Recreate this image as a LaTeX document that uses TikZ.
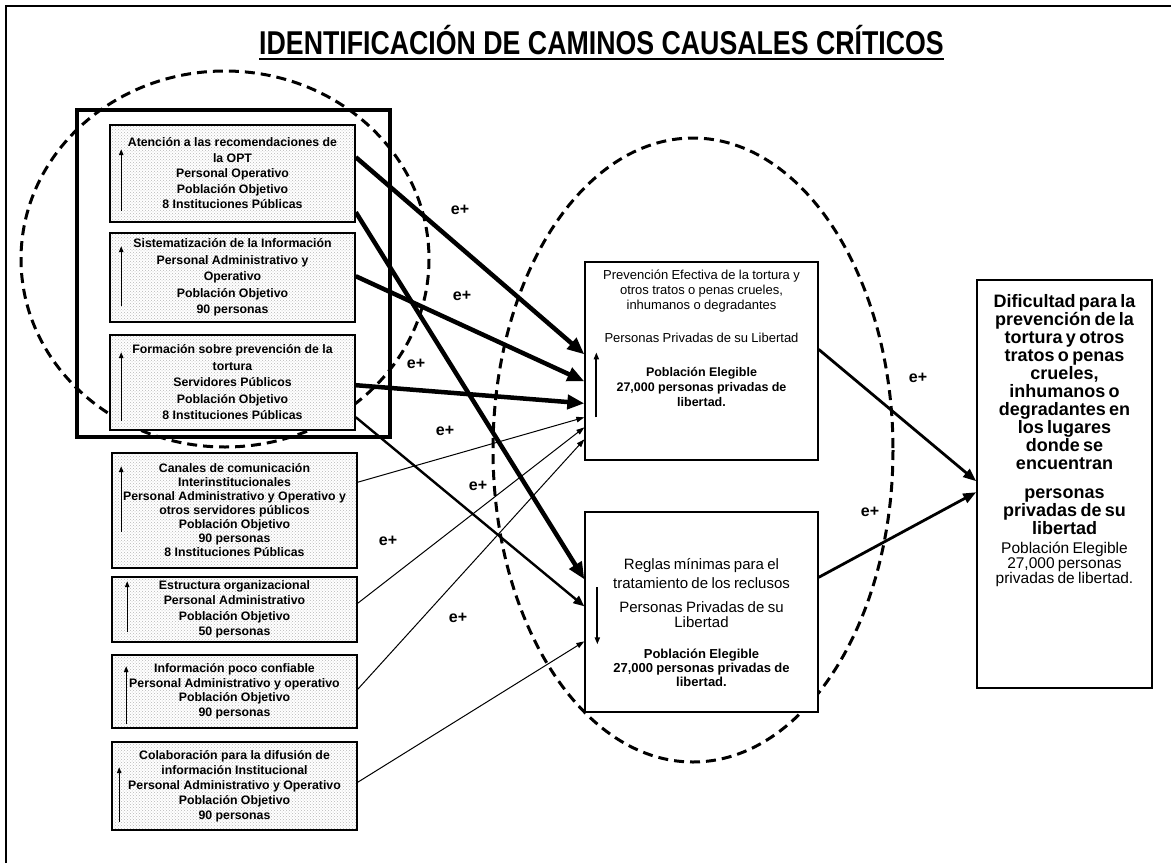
\documentclass[tikz,border=0pt]{standalone}
\usepackage{fontspec}
\setmainfont{Liberation Sans}
\usetikzlibrary{arrows.meta,calc,patterns}
\begin{document}
\begin{tikzpicture}[x=1pt,y=-1pt,
 lbox/.style={draw,line width=1.6pt,preaction={fill=white},pattern=crosshatch dots,pattern color=black!28,minimum width=245pt,inner sep=0pt,align=center,font=\fontsize{12.3}{15.5}\selectfont\bfseries},
 mbox/.style={draw,line width=1.3pt,fill=white,minimum width=233pt,inner sep=0pt},
 btext/.style={anchor=north,align=center,inner sep=0pt,execute at begin node=\setlength{\parindent}{0pt}},
 inarr/.style={line width=1pt,-{Triangle[length=6pt,width=4.5pt]}},
 minarr/.style={line width=1.8pt,-{Triangle[length=7pt,width=5pt]}},
 thickarr/.style={line width=4.5pt,-{Triangle[length=17pt,width=14pt]}},
 medarr/.style={line width=2.4pt,-{Triangle[length=11pt,width=9pt]}},
 thinarr/.style={line width=1pt,-{Triangle[length=8pt,width=5.5pt]}},
 rarr/.style={line width=2.8pt,-{Triangle[length=13pt,width=10pt]}},
 lab/.style={font=\fontsize{16}{16}\selectfont\bfseries,inner sep=0pt},
 dashell/.style={line width=3pt,dash pattern=on 10pt off 6pt},
]
\useasboundingbox (0,0) rectangle (1171,863);
% page frame
\draw[line width=1.5pt] (6,863) -- (6,6) -- (1171,6);
% title
\node[inner sep=0pt,anchor=base] (title) at (601.5,54) {\scalebox{0.81}[1]{\fontsize{33}{36}\selectfont\bfseries IDENTIFICACIÓN DE CAMINOS CAUSALES CRÍTICOS}};
\draw[line width=2.5pt] ($(title.base west)+(0,5)$) -- ($(title.base east)+(0,5)$);
% dashed ellipses
\draw[dashell] (225,259) ellipse [x radius=204, y radius=188];
\draw[dashell] (693,450) ellipse [x radius=200, y radius=312];
% thick frame round the first three causes
\draw[line width=4.5pt] (77,110) rectangle (390,437);
% left boxes
\node[lbox,minimum height=97pt] (b1) at (232.5,173.5) {Atención a las recomendaciones de\\ la OPT\\ Personal Operativo\\ Población Objetivo\\ 8 Instituciones Públicas};
\node[lbox,minimum height=89pt,font=\fontsize{12.3}{16.5}\selectfont\bfseries] (b2) at (232.5,277.5) {Sistematización de la Información\\ Personal Administrativo y\\ Operativo\\ Población Objetivo\\ 90 personas};
\node[lbox,minimum height=95pt,font=\fontsize{12.3}{16.5}\selectfont\bfseries] (b3) at (232.5,382.5) {Formación sobre prevención de la\\ tortura\\ Servidores Públicos\\ Población Objetivo\\ 8 Instituciones Públicas};
\node[lbox,minimum height=115pt,font=\fontsize{12.3}{14}\selectfont\bfseries] (b4) at (234.5,510.5) {Canales de comunicación\\ Interinstitucionales\\ Personal Administrativo y Operativo y\\ otros servidores públicos\\ Población Objetivo\\ 90 personas\\ 8 Instituciones Públicas};
\node[lbox,minimum height=65pt] (b5) at (234.5,609.5) {Estructura organizacional\\ Personal Administrativo\\ Población Objetivo\\ 50 personas};
\node[lbox,minimum height=73pt,font=\fontsize{12.3}{14.5}\selectfont\bfseries] (b6) at (234.5,691.5) {Información poco confiable\\ Personal Administrativo y operativo\\ Población Objetivo\\ 90 personas};
\node[lbox,minimum height=88pt,font=\fontsize{12.3}{15}\selectfont\bfseries] (b7) at (234.5,786) {Colaboración para la difusión de\\ información Institucional\\ Personal Administrativo y Operativo\\ Población Objetivo\\ 90 personas};
% small arrows inside left boxes
\draw[inarr] ($(b1.north west)+(12,87)$) -- ($(b1.north west)+(12,25)$);
\draw[inarr] ($(b2.north west)+(12,74)$) -- ($(b2.north west)+(12,14)$);
\draw[inarr] ($(b3.north west)+(12,87)$) -- ($(b3.north west)+(12,18)$);
\draw[inarr] ($(b4.north west)+(10,80)$) -- ($(b4.north west)+(10,14)$);
\draw[inarr] ($(b5.north west)+(16,56)$) -- ($(b5.north west)+(16,5)$);
\draw[inarr] ($(b6.north west)+(15,70)$) -- ($(b6.north west)+(15,12)$);
\draw[inarr] ($(b7.north west)+(8,81)$) -- ($(b7.north west)+(8,26)$);
% middle boxes
\node[mbox,minimum height=198pt] (m1) at (701.5,361) {};
\node[btext,text width=228pt] (m1t) at ($(m1.north)+(0,8)$) {\fontsize{13}{15}\selectfont Prevención Efectiva de la tortura y\\ otros tratos o penas crueles,\\ inhumanos o degradantes\par\vspace{18pt}Personas Privadas de su Libertad\par\vspace{19pt}\fontsize{12.5}{15}\selectfont\bfseries Población Elegible\\ 27,000 personas privadas de\\ libertad.\par};
\draw[minarr] ($(m1.north west)+(12,156)$) -- ($(m1.north west)+(12,91)$);
\node[mbox,minimum height=200pt] (m2) at (701.5,612) {};
\node[btext,text width=228pt] (m2t) at ($(m2.north)+(0,47)$) {\fontsize{15}{19}\selectfont Reglas mínimas para el\\ tratamiento de los reclusos\par\vspace{9pt}\fontsize{15}{15}\selectfont Personas Privadas de su\\ Libertad\par\vspace{17pt}\fontsize{13}{14}\selectfont\bfseries Población Elegible\\ 27,000 personas privadas de\\ libertad.\par};
\draw[minarr] ($(m2.north west)+(13,76)$) -- ($(m2.north west)+(13,133)$);
% right box
\node[draw,line width=1.6pt,fill=white,minimum width=175pt,minimum height=408pt,inner sep=0pt] (R) at (1064.5,484) {};
\node[btext,text width=170pt] (Rt) at ($(R.north)+(0,15)$) {\fontsize{18}{18}\selectfont\bfseries Dificultad para la\\ prevención de la\\ tortura y otros\\ tratos o penas\\ crueles,\\ inhumanos o\\ degradantes en\\ los lugares\\ donde se\\ encuentran\par\vspace{11pt}personas\\ privadas de su\\ libertad\par\vspace{4pt}\fontsize{15.5}{15}\selectfont\mdseries Población Elegible\\ 27,000 personas\\ privadas de libertad.\par};
% connectors
\draw[thickarr] ($(b1.north east)+(0,33)$) -- ($(m1.north west)+(0,93)$);
\draw[thickarr] ($(b2.north east)+(0,44)$) -- ($(m1.north west)+(0,120)$);
\draw[thickarr] ($(b3.north east)+(0,51)$) -- ($(m1.north west)+(0,142)$);
\draw[thickarr] ($(b1.north east)+(0,88)$) -- ($(m2.north west)+(0,68)$);
\draw[medarr] ($(b3.north east)+(0,83)$) -- ($(m2.north west)+(0,95)$);
\draw[thinarr] ($(b4.north east)+(0,30)$) -- ($(m1.north west)+(0,156)$);
\draw[thinarr] ($(b5.north east)+(0,27)$) -- ($(m1.north west)+(0,166)$);
\draw[thinarr] ($(b6.north east)+(0,35)$) -- ($(m1.north west)+(0,178)$);
\draw[thinarr] ($(b7.north east)+(0,41)$) -- ($(m2.north west)+(0,130)$);
\draw[rarr] ($(m1.north east)+(0,88)$) -- ($(R.north west)+(0,202)$);
\draw[rarr] ($(m2.north east)+(0,66)$) -- ($(R.north west)+(0,213)$);
% labels
\node[lab] (e1) at (460,210) {e+};
\node[lab] (e2) at (462,296) {e+};
\node[lab] (e3) at (416,364) {e+};
\node[lab] (e4) at (445,431) {e+};
\node[lab] (e5) at (478,486) {e+};
\node[lab] (e6) at (388,541) {e+};
\node[lab] (e7) at (458,618) {e+};
\node[lab] (e8) at (870,512) {e+};
\node[lab] (e9) at (918,378) {e+};
\end{tikzpicture}
\end{document}
